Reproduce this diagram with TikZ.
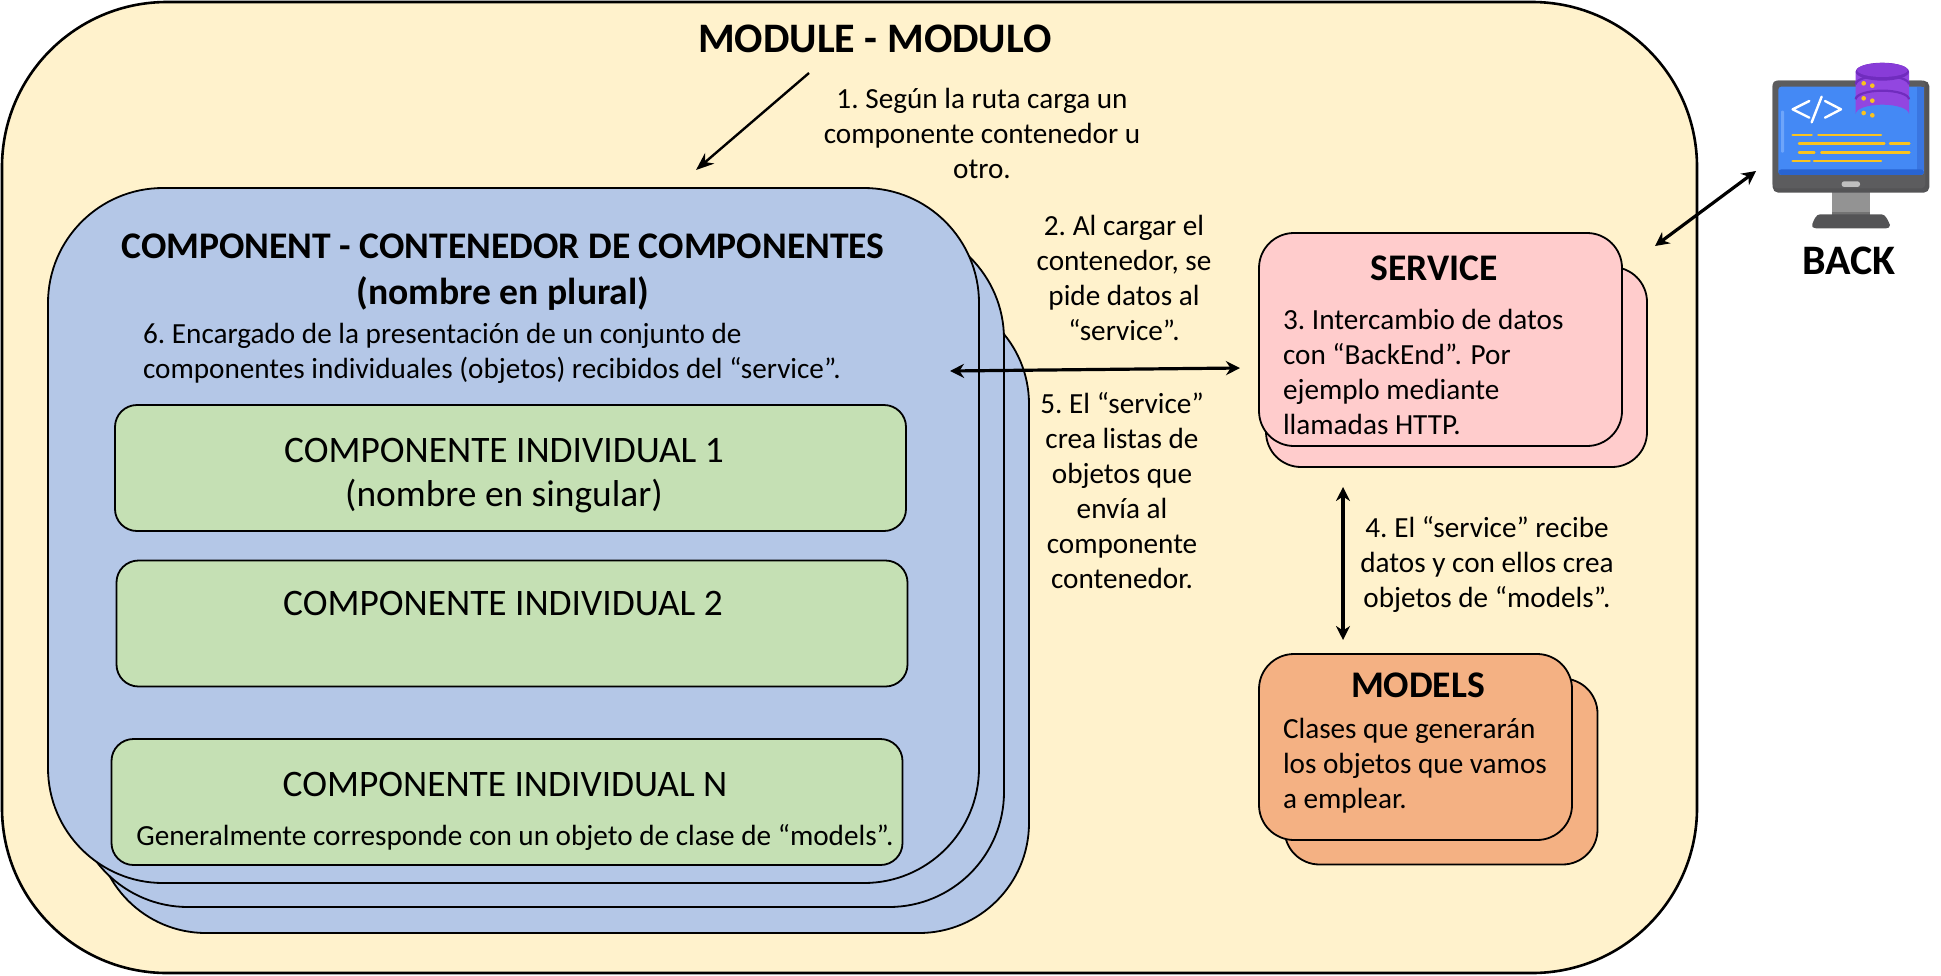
\documentclass[tikz,border=0pt]{standalone}
\usepackage{fontspec}
\setmainfont{Carlito}
\usetikzlibrary{arrows.meta}
\definecolor{modfill}{HTML}{FFF2CC}
\definecolor{bluefill}{HTML}{B4C7E7}
\definecolor{greenfill}{HTML}{C5E0B4}
\definecolor{pinkfill}{HTML}{FFCCCC}
\definecolor{orangefill}{HTML}{F4B183}
\definecolor{dbbody}{RGB}{146,70,224}
\definecolor{dbdark}{RGB}{112,44,190}
\definecolor{dblid}{RGB}{136,60,216}
\definecolor{scrblue}{RGB}{68,137,245}
\definecolor{scrmid}{RGB}{58,118,225}
\definecolor{scrdark}{RGB}{40,100,210}
\definecolor{scrlight}{RGB}{110,165,250}
\definecolor{codeyellow}{RGB}{250,195,30}
\definecolor{frame}{RGB}{92,92,94}
\definecolor{framelight}{RGB}{84,84,86}
\tikzset{
  box/.style={draw=black,line width=1.8pt,inner sep=0pt,outer sep=0pt,rectangle},
  modulebox/.style={box,line width=2.6pt,fill=modfill,rounded corners=165pt,minimum width=1695pt,minimum height=971pt},
  contbox/.style={box,fill=bluefill,rounded corners=115pt},
  indbox/.style={box,fill=greenfill,rounded corners=22pt,minimum width=791pt,minimum height=126pt},
  servbox/.style={box,fill=pinkfill,rounded corners=35pt},
  modelbox/.style={box,fill=orangefill,rounded corners=35pt,minimum width=313pt,minimum height=186pt},
  txt/.style={inner sep=0pt,outer sep=0pt,font=\fontsize{29.2}{35}\selectfont},
  big/.style={inner sep=0pt,outer sep=0pt,font=\fontsize{37.6}{46.5}\selectfont\bfseries,align=center},
  ind/.style={inner sep=0pt,outer sep=0pt,font=\fontsize{37.4}{44.6}\selectfont,align=center},
  link/.style={line width=3.2pt,{Stealth[length=14pt,width=14pt]}-{Stealth[length=14pt,width=14pt]}},
  onelink/.style={line width=2.4pt,-{Stealth[length=18pt,width=14pt]}},
}
\newcommand{\numkern}{\kern-2pt}
\begin{document}
\begin{tikzpicture}[x=1pt,y=-1pt]
\useasboundingbox (0,0) rectangle (1941,975);
\node[modulebox] (module) at (849.5,487.5) {};
\node[big,font=\fontsize{42}{50}\selectfont\bfseries] (moduletitle) at (875,39) {MODULE - MODULO};

% containers
\node[contbox,rounded corners=110pt,minimum width=933pt,minimum height=639pt] (cont3) at (562.5,613.5) {};
\node[contbox,minimum width=931pt,minimum height=683pt] (cont2) at (538.5,565.5) {};
\node[contbox,minimum width=931pt,minimum height=695pt] (cont1) at (513.5,535.5) {};
\node[big] (conttitle) at (503,272) {COMPONENT - CONTENEDOR DE COMPONENTES\\(nombre en plural)};
\node[txt,align=left,anchor=west] (conttext) at (143,353) {6.\numkern{} Encargado de la presentación de un conjunto de\\componentes individuales (objetos) recibidos del “service”.};

\node[indbox] (ind1) at (510.5,468) {};
\node[ind] (ind1t) at (504,475.5) {COMPONENTE INDIVIDUAL 1\\(nombre en singular)};
\node[indbox] (ind2) at (512,623.5) {};
\node[ind] (ind2t) at (503,603) {COMPONENTE INDIVIDUAL 2};
\node[indbox] (indn) at (507,802) {};
\node[ind] (indnt) at (505,784) {COMPONENTE INDIVIDUAL N};
\node[txt] (indnx) at (515,837) {Generalmente corresponde con un objeto de clase de “models”.};

% service
\node[servbox,minimum width=381pt,minimum height=200pt] (serv2) at (1456.5,367) {};
\node[servbox,minimum width=363pt,minimum height=213pt] (serv1) at (1440.5,339.5) {};
\node[big] (servt) at (1434,268) {SERVICE};
\node[txt,align=left,anchor=west] (servx) at (1283,372) {3.\numkern{} Intercambio de datos\\con “BackEnd”. Por\\ejemplo mediante\\llamadas HTTP.};

% models
\node[modelbox] (model2) at (1441,771.5) {};
\node[modelbox] (model1) at (1415.5,747) {};
\node[big] (modelt) at (1418,685) {MODELS};
\node[txt,align=left,anchor=west] (modelx) at (1283,765.5) {Clases que generarán\\los objetos que vamos\\a emplear.};

% free texts
\node[txt,align=center] (t1) at (982,133) {1.\numkern{} Según la ruta carga un\\componente contenedor u\\otro.};
\node[txt,align=center] (t2) at (1124,278) {2.\numkern{} Al cargar el\\contenedor, se\\pide datos al\\“service”.};
\node[txt,align=center] (t5) at (1122,491) {5.\numkern{} El “service”\\crea listas de\\objetos que\\envía al\\componente\\contenedor.};
\node[txt,align=center] (t4) at (1487,564) {4.\numkern{} El “service” recibe\\datos y con ellos crea\\objetos de “models”.};
\node[big,font=\fontsize{42}{50}\selectfont\bfseries] (back) at (1849,261) {BACK};

% connector ends
\coordinate (a1s) at (809,73);
\coordinate (a1e) at (696,170);
\coordinate (a2s) at (950,371);
\coordinate (a2e) at (1240,368);
\coordinate (a3s) at (1343,487);
\coordinate (a3e) at (1343,640);
\coordinate (a4s) at (1655,246);
\coordinate (a4e) at (1756,171);
\draw[onelink] (a1s) -- (a1e);
\draw[link] (a2s) -- (a2e);
\draw[link] (a3s) -- (a3e);
\draw[link] (a4s) -- (a4e);

% monitor icon
\begin{scope}[shift={(1700,40)},x=0.3333pt,y=-0.3333pt]
  \fill[black!55!white] (395,455) rectangle (510,530);
  \fill[gray!85] (395,455) rectangle (510,515);
  \fill[framelight] (360,523) -- (545,523) .. controls (558,523) and (565,545) .. (570,555) .. controls (570,562) and (565,565) .. (558,565) -- (348,565) .. controls (340,565) and (335,562) .. (337,552) .. controls (342,540) and (348,523) .. (360,523) -- cycle;
  \fill[framelight,rounded corners=5.5pt] (218,122) rectangle (688,458);
  \fill[frame,rounded corners=4pt] (218,122) rectangle (676,445);
  \fill[scrblue,rounded corners=3pt] (235,140) rectangle (672,405);
  \fill[scrmid] (652,142) rectangle (672,390);
  \fill[scrdark,rounded corners=3pt] (235,388) rectangle (672,405);
  \fill[black!25,rounded corners=2.5pt] (425,424) rectangle (480,441);
  \fill[scrlight,rounded corners=1pt] (243,212) rectangle (252,338);
  \draw[white,line width=2.4pt,line cap=round,line join=round] (328,183) -- (278,208) -- (328,233);
  \draw[white,line width=2.4pt,line cap=round,line join=round] (365,170) -- (335,247);
  \draw[white,line width=2.4pt,line cap=round,line join=round] (375,183) -- (423,208) -- (375,233);
  \begin{scope}[draw=codeyellow,line width=2.5pt,line cap=round]
    \draw (278,285) -- (335,285);
    \draw (355,285) -- (543,285);
    \draw (297,311) -- (553,311);
    \draw (570,311) -- (628,311);
    \draw (297,337) -- (343,337);
    \draw (364,337) -- (628,337);
    \draw (278,363) -- (329,363);
    \draw (342,363) -- (543,363);
  \end{scope}
  \fill[dbbody] (467,95) -- (467,222) arc[start angle=180,end angle=360,x radius=80,y radius=28] -- (627,95) -- cycle;
  \draw[dbdark,line width=2.2pt] (467,133) arc[start angle=180,end angle=360,x radius=80,y radius=26];
  \draw[dbdark,line width=2.2pt] (467,178) arc[start angle=180,end angle=360,x radius=80,y radius=26];
  \fill[dbdark] (547,95) ellipse[x radius=80,y radius=27];
  \fill[dblid] (547,90) ellipse[x radius=76,y radius=21];
  \foreach \px/\py in {491/130,517/137,491/175,517/182,491/219,517/226}
    \fill[codeyellow] (\px,\py) circle[radius=7];
\end{scope}
\end{tikzpicture}
\end{document}
